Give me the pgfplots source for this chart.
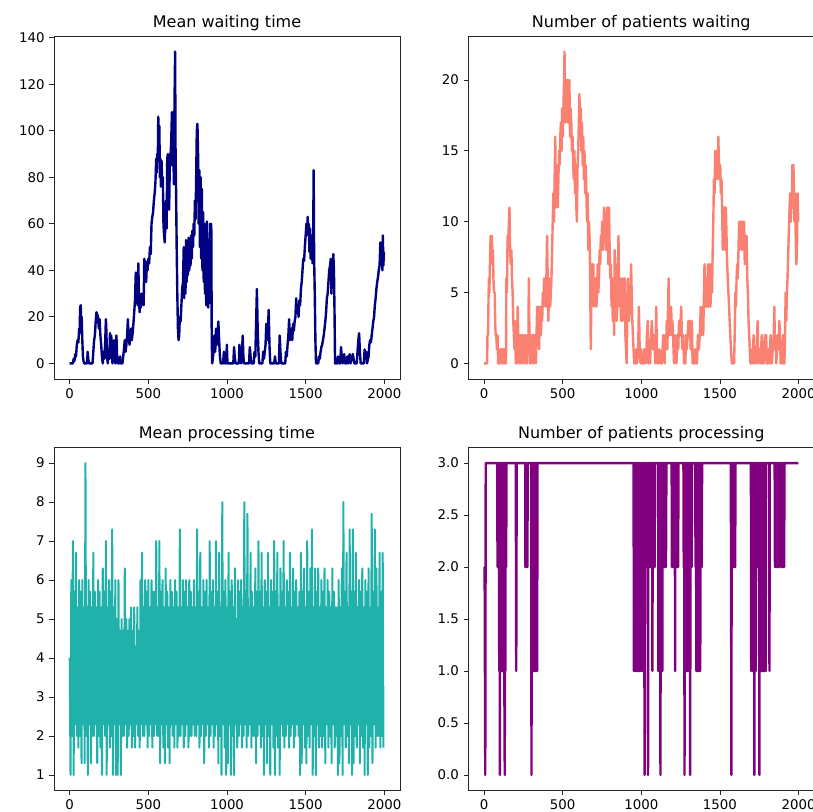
\documentclass[border=0pt]{standalone}
\usepackage{fontspec}
\setmainfont{DejaVu Sans}
\usepackage{pgfplots}
\pgfplotsset{compat=1.18}
\definecolor{mplnavy}{RGB}{0,0,128}
\definecolor{mplsalmon}{RGB}{250,128,114}
\definecolor{mplseagreen}{RGB}{32,178,170}
\definecolor{mplpurple}{RGB}{128,0,128}

% one panel = 346 x 343 px, 1 px = 0.75 pt
\pgfplotsset{panel/.style={
  scale only axis, width=259.5pt, height=257.25pt,
  anchor=south west, enlargelimits=false,
  xmin=-100, xmax=2099.95, xtick={0,500,1000,1500,2000},
  tick pos=left, tick align=outside, major tick length=3.5pt,
  tick style={line width=0.6pt, black!85},
  axis line style={line width=0.6pt, black!85},
  tick label style={font=\fontsize{10}{12}\selectfont},
  /pgf/number format/assume math mode=true,
  /pgf/number format/1000 sep={},
  scaled ticks=false,
  title style={font=\fontsize{12}{14}\selectfont, inner sep=0pt, yshift=-2pt},
  every axis plot/.append style={line width=1.8pt, line join=round, mark=none},
}}

\begin{document}
\begin{tikzpicture}
\path[use as bounding box, clip] (0,0) rectangle (609.75pt,-608.25pt);

% ---- Mean waiting time
\begin{axis}[panel, at={(40.5pt,-284.25pt)}, title={Mean waiting time},
  ymin=-6.7, ymax=140.7, ytick={0,20,...,140}]
\addplot[mplnavy] coordinates {
(0,0)(20,0)(25,2)(30,1)(35,4)(40,3)(45,8)(50,10)(55,9)(60,15)(63,13)(66,24)(70,25)(73,18)(76,20)(80,10)(84,3)(88,1)(92,0)
(110,0)(114,5)(118,2)(122,0)(145,0)(150,5)(155,10)(160,12)(165,18)(170,22)(175,21)(180,20)(185,15)(190,19)(195,12)(200,8)
(205,3)(210,0)(215,5)(220,2)(225,8)(230,19)(233,14)(237,3)(242,0)(248,6)(252,2)(256,13)(260,8)(264,12)(268,3)(272,0)
(278,8)(282,10)(286,2)(290,0)(294,6)(297,12)(300,5)(305,0)(315,0)(320,3)(325,0)(335,0)(340,3)(345,6)(350,10)(355,5)
(360,8)(365,12)(370,19)(373,10)(377,14)(380,8)(385,12)(390,15)(395,10)(400,13)(405,17)(410,22)(415,27)(420,39)(424,28)
(428,35)(432,25)(436,43)(440,30)(444,22)(448,28)(452,24)(456,30)(460,26)(465,29)(470,25)(474,45)(478,38)(482,44)(486,35)
(490,42)(495,40)(500,45)(505,43)(510,50)(515,47)(520,60)(525,63)(530,65)(535,70)(540,73)(545,78)(550,88)(553,82)(556,90)
(560,87)(563,106)(566,96)(570,102)(573,80)(576,88)(580,76)(584,87)(588,76)(592,80)(596,60)(600,55)(604,52)(608,60)
(612,70)(616,58)(620,88)(624,90)(628,78)(632,66)(636,84)(640,88)(645,95)(650,108)(654,85)(658,100)(662,77)(666,110)
(670,134)(673,90)(676,75)(680,50)(684,30)(688,15)(692,10)(696,12)(700,20)(705,18)(710,25)(715,32)(720,35)(725,50)
(728,28)(732,48)(736,30)(740,53)(744,35)(748,52)(752,38)(756,54)(760,40)(764,50)(768,42)(772,55)(776,45)(780,57)
(784,50)(788,60)(792,55)(796,70)(800,62)(804,80)(808,100)(812,103)(816,90)(820,60)(824,83)(828,50)(832,80)(836,45)
(840,75)(844,40)(848,65)(852,35)(856,60)(860,30)(864,55)(868,25)(872,61)(876,35)(880,24)(884,50)(888,26)(892,60)
(896,45)(900,60)(903,10)(906,0)(915,5)(920,12)(925,5)(930,15)(935,8)(940,12)(945,18)(950,10)(955,3)(960,0)(975,0)
(980,5)(985,0)(995,0)(999,8)(1003,0)(1040,0)(1045,7)(1050,2)(1055,0)(1075,0)(1079,8)(1083,2)(1090,0)(1095,5)(1100,12)
(1104,3)(1108,0)(1140,0)(1145,7)(1150,3)(1155,0)(1170,0)(1175,5)(1180,3)(1185,17)(1190,32)(1195,15)(1200,5)(1205,0)
(1225,0)(1230,5)(1235,2)(1245,8)(1250,17)(1255,10)(1260,14)(1265,23)(1270,8)(1275,0)(1300,0)(1305,3)(1310,0)(1330,0)
(1335,12)(1340,5)(1345,0)(1370,0)(1375,5)(1380,3)(1385,8)(1390,12)(1395,19)(1400,10)(1405,12)(1410,15)(1415,10)
(1420,17)(1425,14)(1430,18)(1435,20)(1440,28)(1445,22)(1450,25)(1455,20)(1460,27)(1465,25)(1470,32)(1475,35)(1480,40)
(1485,45)(1490,44)(1495,50)(1500,55)(1505,60)(1510,58)(1513,63)(1517,55)(1520,60)(1524,48)(1528,58)(1532,45)(1536,55)
(1540,50)(1544,43)(1548,55)(1551,83)(1554,45)(1558,30)(1562,10)(1566,0)(1580,0)(1585,3)(1590,2)(1595,5)(1600,7)
(1605,8)(1610,10)(1615,12)(1620,15)(1625,18)(1630,22)(1635,28)(1640,30)(1645,35)(1650,40)(1655,42)(1660,45)(1664,30)
(1668,44)(1672,35)(1676,47)(1680,40)(1684,20)(1687,0)(1700,0)(1705,3)(1710,0)(1720,0)(1725,7)(1730,2)(1735,0)(1745,4)
(1750,0)(1760,0)(1765,3)(1770,0)(1780,4)(1785,0)(1800,4)(1805,2)(1810,0)(1825,0)(1830,5)(1835,10)(1840,13)(1845,5)
(1850,0)(1870,0)(1875,6)(1880,3)(1885,5)(1890,0)(1900,3)(1905,8)(1910,10)(1915,9)(1920,12)(1925,15)(1930,18)(1935,20)
(1940,25)(1945,28)(1950,32)(1955,35)(1960,37)(1965,40)(1970,42)(1975,52)(1980,48)(1985,52)(1988,40)(1991,55)(1994,42)
(1998,48)};
\end{axis}

% ---- Number of patients waiting
\begin{axis}[panel, at={(351.2pt,-284.25pt)}, title={Number of patients waiting},
  ymin=-1.1, ymax=23.1, ytick={0,5,10,15,20}]
\addplot[mplsalmon] coordinates {
(0,0)(20,0)(22,2)(26,2)(28,4)(31,6)(34,5)(38,7)(42,9)(46,8)(50,9)(54,7)(57,8)(60,6)(64,5)(68,5)(71,3)(74,2)(78,2)
(82,1)(86,2)(90,0)(100,0)(104,1)(110,1)(113,0)(120,0)(122,1)(132,1)(134,0)(140,0)(142,6)(146,5)(150,9)(154,8)
(158,10)(162,11)(166,8)(170,7)(174,8)(178,6)(182,5)(186,3)(190,2)(194,1)(198,3)(202,0)(206,2)(210,0)(214,4)(218,2)
(222,1)(226,0)(230,2)(234,0)(240,2)(244,0)(248,2)(252,1)(256,2)(260,0)(266,2)(272,0)(278,2)(282,1)(285,6)(288,3)
(292,0)(298,0)(302,2)(306,1)(310,2)(314,0)(318,2)(322,1)(326,2)(330,0)(334,2)(338,4)(342,2)(346,4)(350,1)(354,3)
(358,4)(362,2)(366,4)(370,3)(374,5)(378,4)(382,6)(386,5)(390,6)(394,4)(398,7)(401,9)(405,6)(409,3)(413,5)(417,6)
(421,4)(425,5)(429,6)(433,8)(437,10)(441,12)(445,10)(449,13)(453,16)(457,11)(461,12)(465,14)(469,11)(473,13)(477,15)
(481,14)(485,16)(489,17)(493,15)(497,18)(501,16)(505,18)(509,20)(512,22)(515,18)(519,17)(523,20)(527,19)(531,20)
(535,17)(539,18)(543,20)(547,16)(551,18)(555,17)(559,15)(563,16)(567,14)(571,13)(575,15)(579,12)(583,14)(587,11)
(591,10)(595,14)(599,15)(603,17)(607,19)(611,16)(615,18)(619,15)(623,17)(627,14)(631,16)(635,13)(639,15)(643,12)
(647,14)(651,12)(655,10)(659,12)(663,8)(667,10)(671,9)(675,6)(679,1)(683,5)(687,7)(691,5)(695,7)(699,4)(703,6)
(707,5)(711,6)(715,4)(719,5)(723,7)(727,5)(731,6)(735,8)(739,7)(743,9)(747,8)(751,10)(755,8)(759,9)(763,11)(767,9)
(771,10)(775,8)(779,10)(783,11)(787,9)(791,7)(795,11)(799,8)(803,6)(807,7)(811,4)(815,5)(819,3)(823,6)(827,2)(831,8)
(835,5)(839,7)(843,3)(847,4)(851,6)(855,9)(859,5)(863,4)(867,6)(871,3)(875,4)(879,6)(883,3)(887,5)(891,4)(895,6)
(899,2)(903,1)(907,0)(911,3)(915,6)(919,4)(923,3)(927,5)(931,4)(935,7)(939,5)(943,3)(947,2)(951,1)(955,0)(965,0)
(969,1)(973,0)(980,1)(985,4)(990,1)(995,0)(1000,1)(1005,0)(1015,0)(1020,1)(1030,0)(1036,2)(1041,3)(1046,0)(1050,1)
(1056,0)(1062,2)(1068,3)(1073,1)(1078,2)(1085,1)(1090,0)(1095,4)(1099,1)(1104,0)(1110,0)(1116,1)(1122,0)(1130,0)
(1135,1)(1140,2)(1144,1)(1148,0)(1152,2)(1158,1)(1162,3)(1166,1)(1170,4)(1174,6)(1177,3)(1181,2)(1186,3)(1190,4)
(1194,2)(1198,3)(1202,2)(1208,0)(1214,1)(1218,2)(1224,0)(1230,2)(1235,1)(1240,3)(1246,2)(1250,3)(1254,4)(1258,2)
(1262,1)(1266,2)(1272,0)(1280,0)(1285,2)(1290,1)(1295,2)(1300,3)(1304,2)(1310,3)(1314,1)(1318,2)(1322,3)(1326,0)
(1336,0)(1342,1)(1348,0)(1354,0)(1360,2)(1366,1)(1372,2)(1378,4)(1382,2)(1386,3)(1390,4)(1394,2)(1397,4)(1402,7)
(1406,5)(1410,4)(1414,6)(1418,4)(1424,7)(1428,4)(1432,6)(1436,7)(1440,4)(1446,7)(1450,5)(1454,8)(1458,10)(1462,13)
(1466,12)(1470,15)(1474,13)(1478,15)(1482,14)(1486,13)(1490,16)(1494,14)(1498,13)(1502,14)(1506,12)(1510,13)
(1514,11)(1518,8)(1522,11)(1526,9)(1530,11)(1534,8)(1538,11)(1542,9)(1546,7)(1550,6)(1554,5)(1558,4)(1562,3)
(1566,2)(1570,1)(1576,0)(1590,0)(1594,2)(1598,5)(1602,4)(1606,6)(1610,7)(1614,6)(1618,8)(1622,10)(1626,8)(1630,10)
(1634,9)(1638,10)(1642,8)(1646,10)(1650,9)(1654,10)(1658,7)(1662,9)(1666,8)(1670,9)(1674,6)(1678,5)(1682,3)(1686,2)
(1690,1)(1694,0)(1700,0)(1704,1)(1708,0)(1714,2)(1718,0)(1724,1)(1730,0)(1736,2)(1740,3)(1744,0)(1752,1)(1756,0)
(1762,1)(1766,2)(1770,0)(1776,1)(1780,0)(1786,2)(1790,1)(1794,2)(1798,0)(1804,0)(1810,1)(1816,0)(1822,2)(1826,1)
(1830,0)(1836,1)(1842,2)(1846,4)(1850,1)(1854,2)(1858,0)(1864,1)(1868,2)(1874,1)(1878,3)(1882,2)(1886,0)(1892,1)
(1896,0)(1902,2)(1906,0)(1910,0)(1914,2)(1918,5)(1922,3)(1926,5)(1930,6)(1935,8)(1940,10)(1946,12)(1950,10)(1954,11)
(1958,12)(1961,14)(1964,11)(1967,14)(1970,13)(1974,10)(1978,12)(1982,9)(1986,7)(1990,8)(1994,12)(1998,10)};
\end{axis}

% ---- Mean processing time
\begin{axis}[panel, at={(40.5pt,-592.875pt)}, title={Mean processing time},
  ymin=0.6, ymax=9.4, ytick={1,...,9}]
\addplot[mplseagreen, line width=1.5pt] coordinates {
(0,4.0)(5,1.0)(10,6.0)(15,2.0)(20,7.0)(25,1.0)(30,5.7)(35,2.3)(40,6.7)(45,2.0)(50,5.3)(55,1.7)(60,6.0)(65,2.0)(70,5.7)(75,1.3)(80,6.0)(85,2.3)(90,5.3)(95,1.3)
(100,9.0)(105,2.0)(110,5.3)(115,1.0)(120,6.0)(125,2.3)(130,5.7)(135,1.3)(140,5.3)(145,2.0)(150,6.7)(155,2.0)(160,5.7)(165,2.3)(170,5.3)(175,1.3)(180,6.0)(185,2.0)(190,5.7)(195,1.7)
(200,5.3)(205,1.0)(210,6.3)(215,2.3)(220,5.7)(225,2.0)(230,7.0)(235,1.0)(240,5.3)(245,2.3)(250,6.0)(255,1.7)(260,5.7)(265,2.0)(270,7.3)(275,1.0)(280,5.3)(285,2.3)(290,6.0)(295,1.0)
(300,5.0)(305,1.0)(310,6.0)(315,2.3)(320,4.7)(325,1.0)(330,5.0)(335,2.0)(340,4.7)(345,2.0)(350,6.3)(355,2.3)(360,5.0)(365,1.7)(370,4.7)(375,2.0)(380,5.0)(385,2.3)(390,5.3)(395,1.7)
(400,4.7)(405,2.0)(410,5.3)(415,1.7)(420,4.3)(425,2.3)(430,5.3)(435,2.0)(440,4.7)(445,1.7)(450,6.0)(455,2.3)(460,6.7)(465,2.0)(470,5.3)(475,2.0)(480,6.0)(485,2.3)(490,5.7)(495,1.7)
(500,6.0)(505,2.0)(510,5.3)(515,2.3)(520,6.0)(525,1.7)(530,5.7)(535,2.0)(540,5.7)(545,2.3)(550,7.0)(555,2.0)(560,5.3)(565,2.0)(570,7.0)(575,1.3)(580,5.7)(585,2.3)(590,6.0)(595,1.7)
(600,5.3)(605,1.3)(610,6.3)(615,2.3)(620,5.7)(625,1.7)(630,5.3)(635,1.3)(640,6.0)(645,2.3)(650,5.7)(655,2.0)(660,5.3)(665,1.7)(670,6.0)(675,2.3)(680,5.7)(685,1.7)(690,5.3)(695,2.0)
(700,7.3)(705,2.0)(710,5.3)(715,2.3)(720,6.0)(725,1.7)(730,5.7)(735,2.0)(740,6.0)(745,2.3)(750,5.3)(755,1.7)(760,6.0)(765,2.0)(770,5.7)(775,2.0)(780,5.3)(785,2.3)(790,6.0)(795,2.0)
(800,5.3)(805,2.0)(810,7.3)(815,2.3)(820,5.7)(825,1.7)(830,6.7)(835,2.0)(840,5.3)(845,2.3)(850,6.0)(855,1.3)(860,5.7)(865,2.0)(870,6.0)(875,2.3)(880,5.3)(885,1.7)(890,7.0)(895,2.0)
(900,5.7)(905,2.3)(910,6.0)(915,1.7)(920,5.3)(925,2.0)(930,7.0)(935,2.3)(940,5.7)(945,1.3)(950,6.7)(955,2.0)(960,5.3)(965,1.0)(970,8.0)(975,2.3)(980,5.7)(985,1.7)(990,6.0)(995,1.0)
(1000,5.3)(1005,1.3)(1010,6.7)(1015,2.3)(1020,5.7)(1025,1.0)(1030,6.0)(1035,2.0)(1040,5.3)(1045,1.0)(1050,6.3)(1055,2.3)(1060,5.0)(1065,1.7)(1070,6.0)(1075,2.0)(1080,5.7)(1085,2.3)(1090,6.0)(1095,1.7)
(1100,5.3)(1105,2.0)(1110,8.0)(1115,2.3)(1120,5.7)(1125,1.7)(1130,7.7)(1135,2.0)(1140,5.3)(1145,2.3)(1150,6.7)(1155,1.7)(1160,5.7)(1165,2.0)(1170,5.3)(1175,2.0)(1180,6.3)(1185,1.3)(1190,5.7)(1195,2.0)
(1200,7.0)(1205,2.3)(1210,5.7)(1215,1.7)(1220,6.7)(1225,2.0)(1230,5.3)(1235,1.0)(1240,6.0)(1245,2.3)(1250,5.7)(1255,1.3)(1260,6.7)(1265,2.0)(1270,5.3)(1275,1.0)(1280,6.0)(1285,2.3)(1290,5.7)(1295,1.7)
(1300,7.0)(1305,1.0)(1310,5.7)(1315,2.0)(1320,6.7)(1325,1.7)(1330,5.3)(1335,1.0)(1340,6.3)(1345,2.3)(1350,5.7)(1355,2.0)(1360,7.0)(1365,1.7)(1370,5.3)(1375,2.0)(1380,6.0)(1385,2.3)(1390,5.7)(1395,1.7)
(1400,6.7)(1405,2.0)(1410,5.3)(1415,2.3)(1420,6.3)(1425,1.7)(1430,5.7)(1435,2.0)(1440,6.0)(1445,2.3)(1450,5.3)(1455,2.0)(1460,5.7)(1465,1.0)(1470,6.7)(1475,1.3)(1480,5.7)(1485,2.3)(1490,6.3)(1495,1.7)
(1500,5.3)(1505,1.3)(1510,7.0)(1515,2.0)(1520,5.7)(1525,1.7)(1530,6.3)(1535,2.3)(1540,7.3)(1545,1.0)(1550,5.3)(1555,2.0)(1560,6.3)(1565,1.0)(1570,5.7)(1575,2.3)(1580,6.3)(1585,1.7)(1590,5.3)(1595,2.0)
(1600,6.0)(1605,1.7)(1610,5.7)(1615,2.0)(1620,6.3)(1625,1.3)(1630,5.3)(1635,2.3)(1640,6.0)(1645,1.7)(1650,5.7)(1655,2.0)(1660,5.3)(1665,1.3)(1670,6.3)(1675,2.3)(1680,5.7)(1685,1.7)(1690,5.3)(1695,2.0)
(1700,5.3)(1705,1.0)(1710,6.0)(1715,1.3)(1720,5.3)(1725,2.0)(1730,6.3)(1735,1.0)(1740,8.0)(1745,2.3)(1750,5.7)(1755,1.7)(1760,6.7)(1765,2.0)(1770,5.3)(1775,1.3)(1780,7.3)(1785,2.3)(1790,5.7)(1795,1.0)
(1800,7.3)(1805,1.3)(1810,5.7)(1815,2.0)(1820,6.7)(1825,1.7)(1830,5.3)(1835,2.3)(1840,6.0)(1845,1.3)(1850,5.7)(1855,2.0)(1860,6.3)(1865,1.7)(1870,5.3)(1875,1.0)(1880,6.0)(1885,2.3)(1890,5.7)(1895,1.0)
(1900,6.3)(1905,1.7)(1910,5.3)(1915,2.0)(1920,7.7)(1925,1.3)(1930,5.7)(1935,2.3)(1940,7.3)(1945,1.7)(1950,6.3)(1955,2.0)(1960,5.3)(1965,2.0)(1970,6.7)(1975,1.7)(1980,5.7)(1985,2.0)(1990,6.7)(1995,1.7)};
\end{axis}

% ---- Number of patients processing
\begin{axis}[panel, at={(351.2pt,-592.875pt)}, title={Number of patients processing},
  ymin=-0.15, ymax=3.15, ytick={0,0.5,...,3},
  yticklabel style={/pgf/number format/.cd, fixed, fixed zerofill, precision=1}]
\addplot[mplpurple] coordinates {
(0,2)(4,2)(6,1)(8,0)(11,3)(84,3)(86,2)(89,3)(91,2)(93,3)(95,2)(97,1)(99,3)(101,0)(103,3)(105,1)(107,3)(109,1)(111,3)
(113,1)(115,3)(117,1)(119,3)(121,1)(123,3)(125,1)(127,3)(129,1)(132,0)(134,3)(136,1)(138,3)(141,2)(143,3)(202,3)
(205,1)(208,3)(262,3)(263,2)(266,3)(268,2)(271,3)(273,2)(276,2)(278,3)(300,3)(302,0)(304,3)(306,1)(308,3)(310,1)
(312,3)(314,1)(316,3)(318,1)(320,3)(322,1)(324,3)(326,1)(328,3)(330,1)(332,3)(334,1)(336,3)(338,1)(340,3)
(951,3)(953,1)(956,3)(958,1)(961,3)(963,1)(966,3)(968,1)(971,3)(973,1)(976,3)(978,1)(981,3)(983,1)(986,3)(988,1)
(991,3)(993,1)(996,3)(998,2)(1000,1)(1002,3)(1004,2)(1007,3)(1009,2)(1010,1)(1012,3)(1014,2)(1017,3)(1019,2)(1021,0)
(1023,3)(1025,2)(1028,3)(1030,2)(1033,3)(1035,2)(1038,3)(1040,2)(1043,0)(1045,3)(1047,2)(1050,3)(1052,2)(1054,3)
(1056,2)(1059,3)(1061,2)(1064,3)(1066,2)(1069,3)(1071,1)(1073,3)(1075,2)(1078,3)(1080,2)(1083,3)(1085,2)(1087,3)
(1107,3)(1109,1)(1111,3)(1113,1)(1115,3)(1117,1)(1119,3)(1122,0)(1124,3)(1126,1)(1128,3)(1130,1)(1132,3)(1134,1)
(1136,3)(1140,3)(1142,2)(1145,3)(1147,2)(1150,3)(1152,2)(1155,3)(1157,2)(1160,3)(1193,3)(1195,2)(1198,3)(1200,2)
(1203,3)(1205,2)(1208,3)(1210,2)(1213,3)(1215,1)(1217,3)(1219,2)(1222,3)(1224,2)(1227,3)(1229,2)(1232,3)(1234,2)
(1237,3)(1268,3)(1270,2)(1273,3)(1275,0)(1277,3)(1279,1)(1281,3)(1283,1)(1285,3)(1287,1)(1289,3)(1291,1)(1293,3)
(1295,1)(1297,3)(1299,1)(1301,3)(1303,1)(1305,3)(1307,1)(1309,3)(1311,0)(1313,3)(1315,2)(1318,3)(1320,2)(1323,3)
(1343,3)(1345,2)(1348,3)(1350,1)(1352,3)(1354,1)(1356,3)(1358,1)(1360,3)(1362,1)(1364,3)(1366,1)(1368,3)(1370,1)
(1372,3)(1375,1)(1377,3)(1379,2)(1382,3)(1384,2)(1387,3)(1569,3)(1571,2)(1573,0)(1575,3)(1577,2)(1580,3)(1582,2)
(1585,3)(1587,2)(1590,3)(1592,2)(1595,3)(1597,2)(1599,3)(1697,3)(1699,1)(1701,3)(1703,1)(1705,3)(1707,1)(1709,3)
(1711,1)(1713,3)(1715,1)(1717,3)(1719,0)(1721,3)(1723,2)(1726,3)(1728,1)(1730,3)(1732,2)(1735,3)(1737,2)(1740,3)
(1742,2)(1745,3)(1747,2)(1749,3)(1751,0)(1753,3)(1755,1)(1757,3)(1759,1)(1761,3)(1763,1)(1765,3)(1767,1)(1769,3)
(1771,1)(1773,3)(1775,1)(1777,3)(1779,1)(1781,3)(1783,1)(1785,3)(1787,1)(1789,3)(1791,1)(1793,3)(1813,3)(1815,1)
(1817,3)(1848,3)(1850,2)(1853,3)(1855,2)(1858,3)(1860,2)(1863,3)(1865,2)(1868,3)(1870,2)(1873,3)(1875,2)(1878,3)
(1880,2)(1882,3)(1891,3)(1893,2)(1896,3)(1898,2)(1901,3)(1903,2)(1906,3)(1908,2)(1911,3)(1999,3)};
\end{axis}
\end{tikzpicture}
\end{document}
